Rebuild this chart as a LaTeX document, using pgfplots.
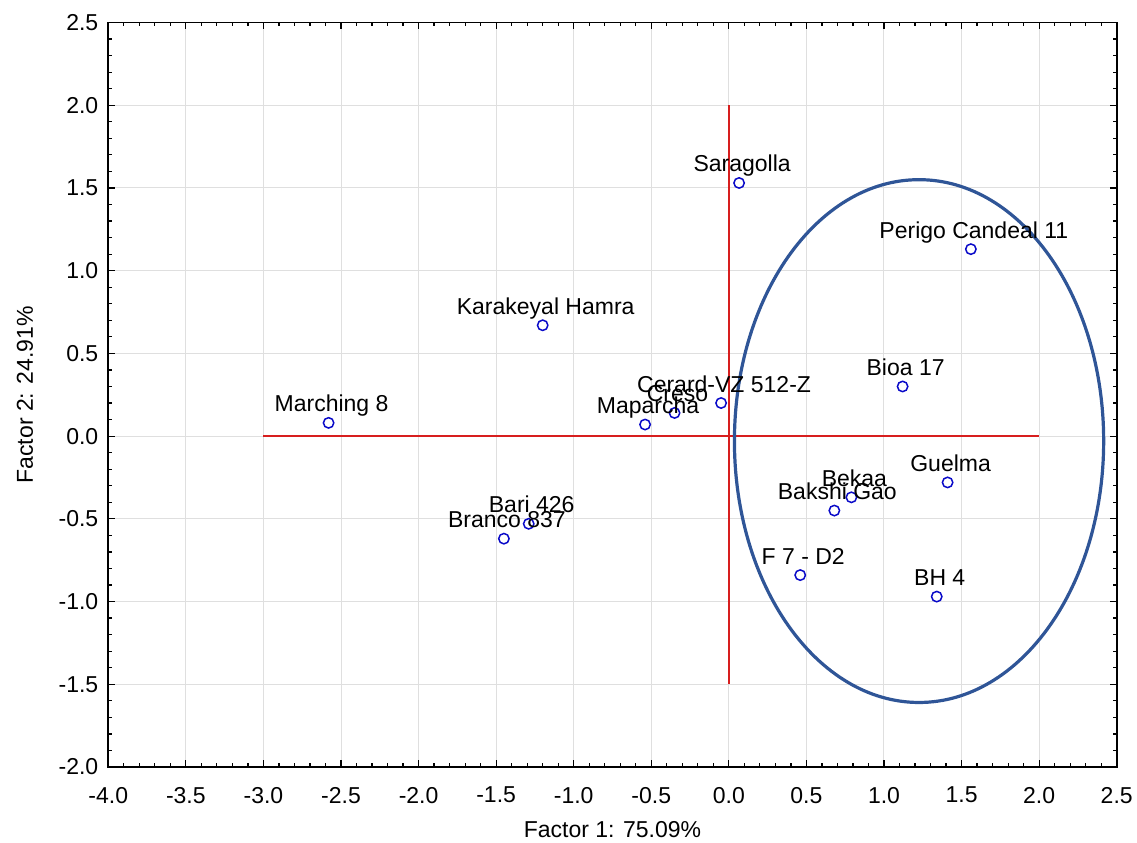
\documentclass[border=0pt]{standalone}
\usepackage{pgfplots}
\pgfplotsset{compat=1.18}
\usepackage{fontspec}
\setmainfont{Liberation Sans}
\definecolor{ellblue}{RGB}{47,85,151}
\definecolor{ptblue}{RGB}{10,10,200}
\definecolor{linered}{RGB}{215,30,30}
\begin{document}
\begin{tikzpicture}[x=1pt,y=1pt]
\begin{axis}[
  scale only axis,
  width=504.2pt, height=372.25pt,
  xmin=-4, xmax=2.5, ymin=-2, ymax=2.5,
  xtick={-4,-3.5,...,2.5}, ytick={-2,-1.5,...,2.5},
  minor x tick num=4, minor y tick num=4,
  tick align=inside,
  major tick length=3.5pt, minor tick length=2pt,
  grid=major,
  major grid style={gray!25, line width=0.5pt},
  axis line style={line width=0.9pt},
  every tick/.style={black, line width=0.6pt},
  /pgf/number format/assume math mode=true,
  /pgf/number format/.cd, fixed, fixed zerofill, precision=1, /pgfplots/.cd,
  tick label style={font=\fontsize{11.5}{13}\selectfont},
  xticklabel style={yshift=-6.5pt},
  yticklabel style={xshift=-1.5pt},
  label style={font=\fontsize{11.5}{13}\selectfont},
  xlabel={Factor 1: 75.09\%},
  ylabel={Factor 2: 24.91\%},
  xlabel style={at={(axis description cs:0.5,0)}, anchor=center, yshift=-31.5pt},
  ylabel style={at={(axis description cs:0,0.5)}, anchor=center, rotate=0, xshift=0pt, yshift=41.65pt},
  clip=false,
]
\addplot[linered, line width=0.8pt, no marks] coordinates {(-3,0) (2,0)};
\addplot[linered, line width=0.8pt, no marks] coordinates {(0,-1.5) (0,2)};
\draw[ellblue, line width=1.6pt] (axis cs:1.226,-0.03) ellipse [x radius=1.19, y radius=1.58];
\addplot[only marks, mark=o, mark size=2.6pt, ptblue, line width=0.75pt,
  nodes near coords, point meta=explicit symbolic,
  nodes near coords style={anchor=base, yshift=5.5pt, xshift=1.5pt, black, inner sep=0pt, font=\fontsize{11.5}{13}\selectfont}]
  table[col sep=comma, meta=label] {
x,y,label
-2.58,0.08,Marching 8
-1.20,0.67,Karakeyal Hamra
0.066,1.53,Saragolla
1.56,1.13,Perigo Candeal 11
1.12,0.30,Bioa 17
-0.05,0.20,Cerard-VZ 512-Z
-0.35,0.14,Creso
-0.54,0.07,Maparcha
-1.29,-0.53,Bari 426
-1.45,-0.62,Branco 837
0.79,-0.37,Bekaa
0.68,-0.45,Bakshi Gao
1.41,-0.28,Guelma
0.46,-0.84,F 7 - D2
1.34,-0.97,BH 4
};
\end{axis}
\pgfresetboundingbox
\path[use as bounding box] ([xshift=-54.15pt,yshift=-38pt]current axis.south west) rectangle ([xshift=10.15pt,yshift=11.25pt]current axis.north east);
\end{tikzpicture}
\end{document}
